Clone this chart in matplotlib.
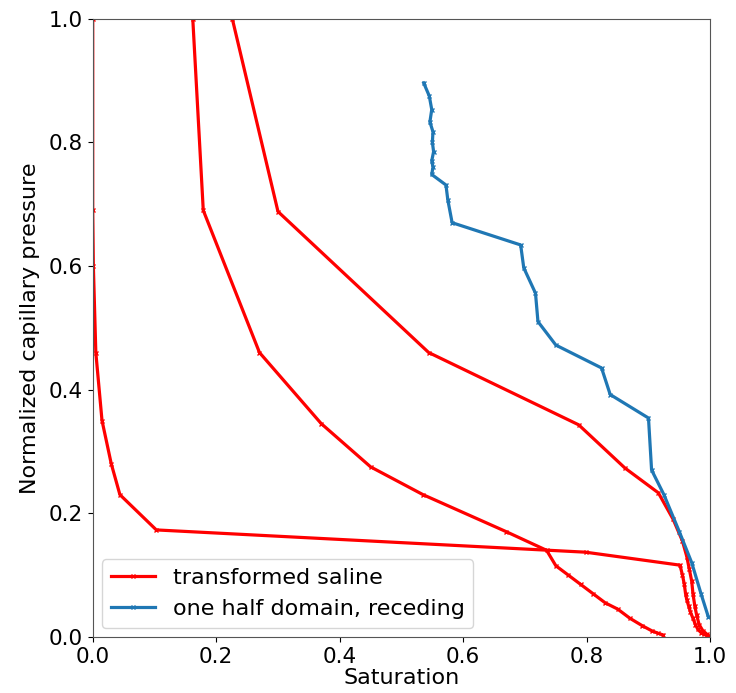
import numpy as np
import matplotlib
matplotlib.use("Agg")
import matplotlib.pyplot as plt

# transformed saline curves (saturation, normalized capillary pressure)
sat_a = [0.0, 0.0, 0.001, 0.005, 0.015, 0.03, 0.044, 0.103, 0.798, 0.951,
         0.955, 0.958, 0.960, 0.962, 0.965, 0.968, 0.972, 0.976, 0.980, 0.985, 0.990, 0.995]
pc_a = [1.0, 0.69, 0.60, 0.46, 0.35, 0.28, 0.23, 0.173, 0.137, 0.116,
        0.100, 0.085, 0.070, 0.060, 0.050, 0.040, 0.030, 0.020, 0.012, 0.007, 0.004, 0.002]

sat_b = [0.162, 0.179, 0.27, 0.37, 0.45, 0.535, 0.67, 0.735, 0.75, 0.77, 0.79, 0.81,
         0.83, 0.85, 0.87, 0.89, 0.905, 0.915, 0.924]
pc_b = [1.0, 0.69, 0.46, 0.345, 0.275, 0.23, 0.17, 0.14, 0.115, 0.10, 0.085, 0.07,
        0.055, 0.045, 0.03, 0.018, 0.01, 0.006, 0.003]

sat_c = [0.226, 0.30, 0.544, 0.787, 0.862, 0.916, 0.94, 0.955, 0.962, 0.966, 0.970,
         0.972, 0.975, 0.978, 0.982, 0.988, 0.995, 1.0]
pc_c = [1.0, 0.688, 0.46, 0.343, 0.273, 0.233, 0.19, 0.155, 0.13, 0.11, 0.09,
        0.07, 0.05, 0.035, 0.02, 0.01, 0.004, 0.0]

# one half domain, receding
sat_half = [0.536, 0.545, 0.549, 0.546, 0.551, 0.550, 0.552, 0.549, 0.551, 0.549,
            0.572, 0.575, 0.582, 0.693, 0.698, 0.717, 0.721, 0.75, 0.824, 0.838,
            0.90, 0.905, 0.925, 0.95, 0.97, 0.985, 0.997]
pc_half = [0.896, 0.875, 0.853, 0.833, 0.817, 0.80, 0.785, 0.77, 0.76, 0.748,
           0.731, 0.707, 0.67, 0.634, 0.597, 0.556, 0.51, 0.472, 0.435, 0.392,
           0.354, 0.27, 0.23, 0.17, 0.12, 0.07, 0.032]

fig = plt.figure(figsize=(7.36, 6.93), dpi=100)
ax = fig.add_axes([0.126, 0.081, 0.839, 0.892])

lw = 2.3
ms = 3.5
ax.plot(sat_a, pc_a, color='red', marker='x', ms=ms, lw=lw, label='transformed saline')
ax.plot(sat_b, pc_b, color='red', marker='x', ms=ms, lw=lw)
ax.plot(sat_c, pc_c, color='red', marker='x', ms=ms, lw=lw)
ax.plot(sat_half, pc_half, color='#1f77b4', marker='x', ms=ms, lw=lw,
        label='one half domain, receding')

ax.set_xlim(0, 1)
ax.set_ylim(0, 1)
ax.set_xticks(np.arange(0, 1.01, 0.2))
ax.set_yticks(np.arange(0, 1.01, 0.2))
ax.tick_params(labelsize=15.5)
for s in ax.spines.values():
    s.set_color('#555555')
ax.set_xlabel('Saturation', fontsize=16, labelpad=1)
ax.set_ylabel('Normalized capillary pressure', fontsize=16, labelpad=6)
ax.legend(loc='lower left', fontsize=16, borderaxespad=0.4)

fig.savefig('out.png', dpi=100)
